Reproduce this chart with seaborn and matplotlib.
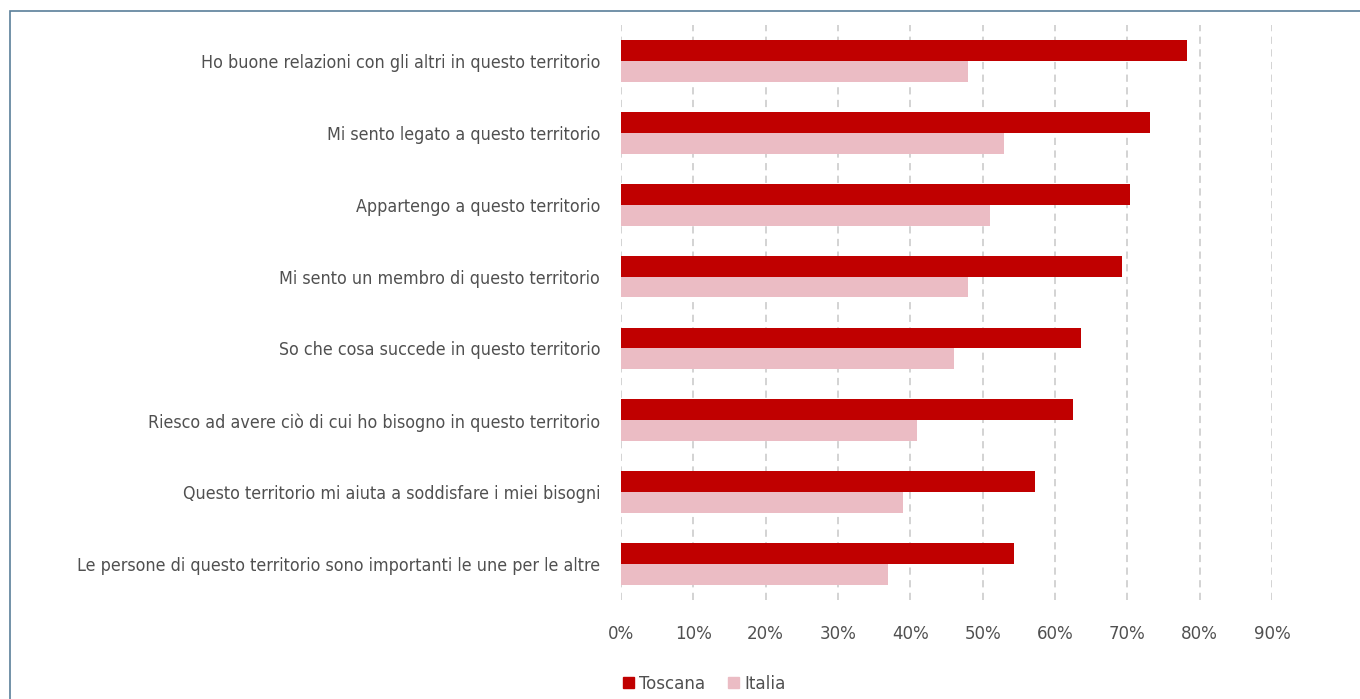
import matplotlib
matplotlib.use("Agg")
import matplotlib.pyplot as plt
import seaborn as sns
import pandas as pd
from matplotlib.patches import Rectangle, Patch
from matplotlib.ticker import PercentFormatter
from matplotlib import font_manager as fm

categories = [
    "Ho buone relazioni con gli altri in questo territorio",
    "Mi sento legato a questo territorio",
    "Appartengo a questo territorio",
    "Mi sento un membro di questo territorio",
    "So che cosa succede in questo territorio",
    "Riesco ad avere ciò di cui ho bisogno in questo territorio",
    "Questo territorio mi aiuta a soddisfare i miei bisogni",
    "Le persone di questo territorio sono importanti le une per le altre",
]
toscana = [78.3, 73.2, 70.3, 69.2, 63.6, 62.5, 57.3, 54.4]
italia = [48.0, 53.0, 51.0, 48.0, 46.1, 40.9, 39.0, 36.9]
series_names = ["Toscana", "Italia"]
colors = ["#C00000", "#EBBCC4"]
xticks = [0, 10, 20, 30, 40, 50, 60, 70, 80, 90]

df = pd.DataFrame({
    "cat": categories * 2,
    "val": toscana + italia,
    "serie": [series_names[0]] * len(categories) + [series_names[1]] * len(categories),
})

sns.set_theme(style="white")
names = {f.name for f in fm.fontManager.ttflist}
family = "Liberation Sans Narrow" if "Liberation Sans Narrow" in names else "DejaVu Sans"
plt.rcParams["font.family"] = [family, "DejaVu Sans"]
plt.rcParams["font.stretch"] = "condensed"

fig = plt.figure(figsize=(13.6, 6.99), dpi=100)
ax = fig.add_axes([621 / 1360, 1 - 600 / 699, (1272 - 621) / 1360, (600 - 25) / 699])

sns.barplot(data=df, y="cat", x="val", hue="serie", orient="h",
            palette=colors, width=0.58, ax=ax, legend=False, saturation=1,
            linewidth=0, edgecolor="none")

ax.set_xlim(0, 90)
ax.set_ylim(7.5, -0.5)
ax.set_xticks(xticks)
ax.xaxis.set_major_formatter(PercentFormatter(decimals=0))
ax.set_xlabel("")
ax.set_ylabel("")
for s in ax.spines.values():
    s.set_visible(False)
ax.grid(False)
for x in xticks:
    ax.axvline(x, color="#d0d0d0", lw=1.3, ls=(0, (4, 3)), zorder=0)
fs = 12.8
ax.tick_params(axis="y", length=0, pad=15, labelsize=fs, labelcolor="#505050")
ax.tick_params(axis="x", length=0, pad=18, labelsize=13.3, labelcolor="#505050")

# frame
fig.patches.append(Rectangle((10 / 1360, -0.1), 1.2, 1 - 11 / 699 + 0.1,
                             transform=fig.transFigure, fill=False,
                             edgecolor="#5a7f9a", lw=1.2))

handles = [Patch(color=c, label=n) for c, n in zip(colors, series_names)]
fig.legend(handles=handles, loc="center left", bbox_to_anchor=(606 / 1360, 1 - 684 / 699),
           ncol=2, frameon=False, fontsize=13.3, handlelength=0.6, handleheight=0.6,
           handletextpad=0.3, columnspacing=1.2, labelcolor="#505050")

fig.savefig("out.png", dpi=100)
